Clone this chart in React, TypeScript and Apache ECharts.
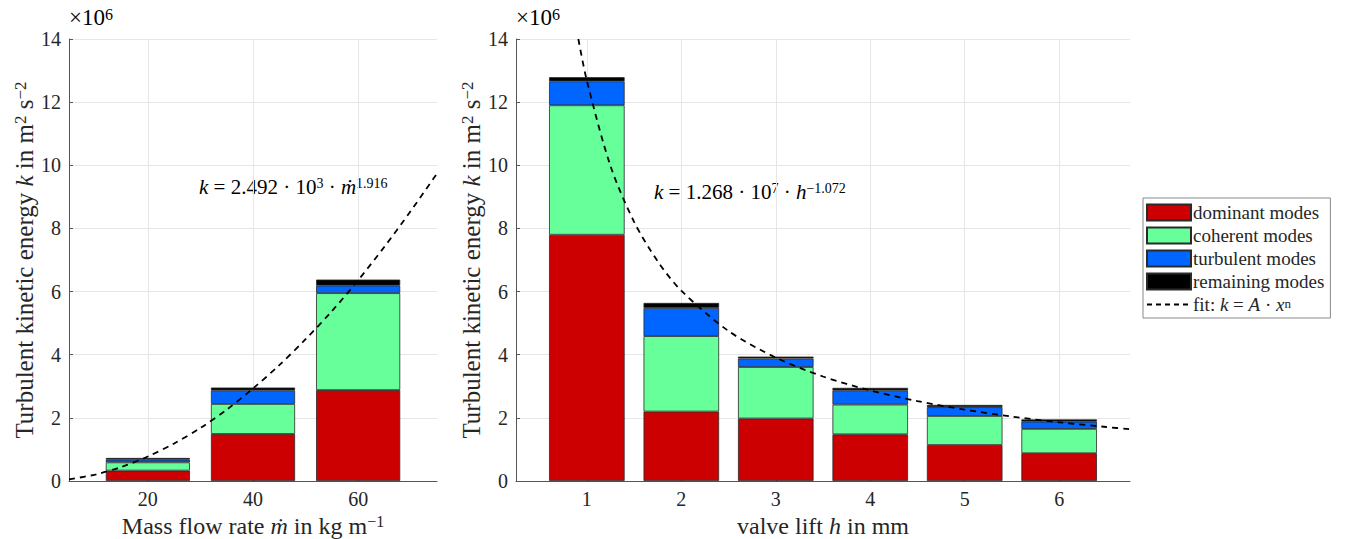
import React, { useEffect, useRef } from "react";
import * as echarts from "echarts";

// ---- data (values in units of 10^6 m^2 s^-2) ----
const massFlowRates = [20, 40, 60];
const dominantM = [0.33, 1.49, 2.88];
const coherentM = [0.26, 0.95, 3.07];
const turbulentM = [0.085, 0.43, 0.24];
const remainingM = [0.055, 0.09, 0.19];

const valveLifts = [1, 2, 3, 4, 5, 6];
const dominantH = [7.8, 2.2, 1.98, 1.48, 1.14, 0.88];
const coherentH = [4.1, 2.39, 1.63, 0.94, 0.92, 0.77];
const turbulentH = [0.76, 0.89, 0.27, 0.45, 0.28, 0.23];
const remainingH = [0.13, 0.16, 0.06, 0.08, 0.07, 0.07];

// fit curves
const fitMx = [5, 10, 15, 20, 25, 30, 35, 40, 45, 50, 55, 60, 65, 70, 75];
const fitMy = [0.054, 0.205, 0.447, 0.775, 1.19, 1.68, 2.26, 2.93, 3.67, 4.49, 5.38, 6.36, 7.42, 8.55, 9.74];
const fitHx = [0.91, 1, 1.25, 1.5, 1.75, 2, 2.5, 3, 3.5, 4, 4.5, 5, 5.5, 6, 6.5, 6.75];
const fitHy = [14.0, 12.68, 9.98, 8.21, 6.96, 6.03, 4.75, 3.91, 3.31, 2.87, 2.53, 2.26, 2.04, 1.86, 1.71, 1.637];

const modeNames = ["dominant modes", "coherent modes", "turbulent modes", "remaining modes"];
const modeColors = ["#cc0000", "#66ff99", "#0066ff", "#000000"];
const FIT = "fit";

const FONT = "Liberation Serif";
const TXT = "#262626";

export default function App() {
  const ref = useRef<HTMLDivElement>(null);
  useEffect(() => {
    if (!ref.current) return;
    const chart = echarts.init(ref.current, null, { renderer: "svg" });

    const gL = { left: 69, top: 39, width: 368, height: 442, outerBoundsMode: "none", containLabel: false };
    const gR = { left: 516, top: 39, width: 614, height: 442, outerBoundsMode: "none", containLabel: false };
    const xL = { min: 5, max: 75 };
    const xR = { min: 0.25, max: 6.75 };

    // hidden category grids aligned so that category centres fall on the values
    const catGrid = (g: any, mm: any, cats: number[]) => {
      const step = cats[1] - cats[0];
      const lo = cats[0] - step / 2;
      const hi = cats[cats.length - 1] + step / 2;
      const span = mm.max - mm.min;
      return {
        left: g.left + ((lo - mm.min) / span) * g.width,
        width: ((hi - lo) / span) * g.width,
        top: g.top,
        height: g.height,
        outerBoundsMode: "none",
        containLabel: false,
      };
    };

    const supRich = (fs: number) => ({
      n: { fontFamily: FONT, fontSize: fs, color: TXT },
      i: { fontFamily: FONT, fontSize: fs, fontStyle: "italic", color: TXT },
      sup: { fontFamily: FONT, fontSize: Math.round(fs * 0.68), color: TXT, verticalAlign: "top", lineHeight: Math.round(fs * 0.6) },
    });

    const xAxisValue = (gridIndex: number, mm: any, ticks: number[], name: string) => ({
      type: "value",
      gridIndex,
      min: mm.min,
      max: mm.max,
      name,
      nameLocation: "middle",
      nameGap: 27,
      nameTextStyle: { rich: supRich(24), fontFamily: FONT, fontSize: 24, color: TXT },
      axisLine: { show: true, lineStyle: { color: "#555", width: 1 } },
      axisTick: { show: true, inside: true, length: 4, customValues: ticks, lineStyle: { color: "#555" } },
      axisLabel: { customValues: ticks, fontFamily: FONT, fontSize: 20, color: TXT, margin: 8 },
      splitLine: { show: true, lineStyle: { color: "#e6e6e6", width: 1 } },
    });

    const yAxisValue = (gridIndex: number) => ({
      type: "value",
      gridIndex,
      min: 0,
      max: 14,
      interval: 2,
      name: "Turbulent kinetic energy {i|k} in m{sup|2} s{sup|−2}",
      nameLocation: "middle",
      nameRotate: 90,
      nameGap: 31,
      nameTextStyle: { rich: supRich(25), fontFamily: FONT, fontSize: 25, color: TXT },
      axisLine: { show: true, lineStyle: { color: "#555", width: 1 } },
      axisTick: { show: true, inside: true, length: 4, lineStyle: { color: "#555" } },
      axisLabel: { fontFamily: FONT, fontSize: 20, color: TXT, margin: 8 },
      splitLine: { show: true, lineStyle: { color: "#e6e6e6", width: 1 } },
    });

    const xAxisCat = (gridIndex: number, cats: number[]) => ({
      type: "category",
      gridIndex,
      data: cats.map(String),
      show: false,
    });
    const yAxisHidden = (gridIndex: number) => ({
      type: "value",
      gridIndex,
      min: 0,
      max: 14,
      show: false,
      splitLine: { show: false },
    });

    const stacksM = [dominantM, coherentM, turbulentM, remainingM];
    const stacksH = [dominantH, coherentH, turbulentH, remainingH];

    const series: any[] = [];
    stacksM.forEach((arr, k) => {
      series.push({
        name: modeNames[k],
        type: "bar",
        xAxisIndex: 2,
        yAxisIndex: 2,
        stack: "m",
        barWidth: "80%",
        itemStyle: { color: modeColors[k], borderColor: "#2a2a2a", borderWidth: 0.8 },
        data: arr,
      });
    });
    stacksH.forEach((arr, k) => {
      series.push({
        name: modeNames[k],
        type: "bar",
        xAxisIndex: 3,
        yAxisIndex: 3,
        stack: "h",
        barWidth: "80%",
        itemStyle: { color: modeColors[k], borderColor: "#2a2a2a", borderWidth: 0.8 },
        data: arr,
      });
    });
    const fitStyle = { color: "#000", width: 1.8, type: [6, 5] };
    series.push({
      name: FIT,
      type: "line",
      xAxisIndex: 0,
      yAxisIndex: 0,
      symbol: "none",
      smooth: 0.3,
      z: 5,
      lineStyle: fitStyle,
      itemStyle: { color: "#000" },
      data: fitMx.map((x, i) => [x, fitMy[i]]),
    });
    series.push({
      name: FIT,
      type: "line",
      xAxisIndex: 1,
      yAxisIndex: 1,
      symbol: "none",
      smooth: 0.3,
      z: 5,
      lineStyle: fitStyle,
      itemStyle: { color: "#000" },
      data: fitHx.map((x, i) => [x, fitHy[i]]),
    });

    const option: any = {
      animation: false,
      backgroundColor: "#fff",
      grid: [gL, gR, catGrid(gL, xL, massFlowRates), catGrid(gR, xR, valveLifts)],
      xAxis: [
        xAxisValue(0, xL, massFlowRates, "Mass flow rate {i|ṁ} in kg m{sup|−1}"),
        xAxisValue(1, xR, valveLifts, "valve lift {i|h} in mm"),
        xAxisCat(2, massFlowRates),
        xAxisCat(3, valveLifts),
      ],
      yAxis: [yAxisValue(0), yAxisValue(1), yAxisHidden(2), yAxisHidden(3)],
      legend: {
        orient: "vertical",
        left: 1143,
        top: 198,
        data: [
          ...modeNames.map((n) => ({ name: n, icon: "rect" })),
          { name: FIT, itemStyle: { opacity: 0 }, lineStyle: { color: "#000", width: 1.8, type: [5, 4] } },
        ],
        itemWidth: 44,
        itemHeight: 16,
        itemGap: 4,
        padding: [5, 6, 4, 3],
        borderColor: "#888",
        borderWidth: 1,
        selectedMode: false,
        textStyle: {
          fontFamily: FONT,
          fontSize: 19,
          lineHeight: 16,
          color: TXT,
          padding: [0, 0, 0, -3],
          rich: {
            n: { fontFamily: FONT, fontSize: 19, color: TXT, lineHeight: 16 },
            i: { fontFamily: FONT, fontSize: 19, fontStyle: "italic", color: TXT, lineHeight: 16 },
            sup: { fontFamily: FONT, fontSize: 13, color: TXT, verticalAlign: "top", lineHeight: 8 },
          },
        },
        formatter: (name: string) =>
          name === FIT ? "{n|fit: }{i|k}{n| = }{i|A}{n| · }{i|x}{sup|n}" : name,
      },
      graphic: [
        {
          type: "text",
          left: 69,
          top: 6,
          style: { text: "{n|×10}{sup|6}", rich: supRich(23) },
        },
        {
          type: "text",
          left: 516,
          top: 6,
          style: { text: "{n|×10}{sup|6}", rich: supRich(23) },
        },
        {
          type: "text",
          left: 199,
          top: 176,
          style: {
            text: "{i|k}{n| = 2.492 · 10}{sup|3}{n| · }{i|ṁ}{sup|1.916}",
            rich: supRich(21),
          },
        },
        {
          type: "text",
          left: 654,
          top: 181,
          style: {
            text: "{i|k}{n| = 1.268 · 10}{sup|7}{n| · }{i|h}{sup|−1.072}",
            rich: supRich(21),
          },
        },
      ],
      series,
    };

    chart.setOption(option);
    return () => chart.dispose();
  }, []);

  return (
    <div
      ref={ref}
      style={{ position: "fixed", left: 0, top: 0, width: 1346, height: 539, background: "#fff" }}
    />
  );
}
